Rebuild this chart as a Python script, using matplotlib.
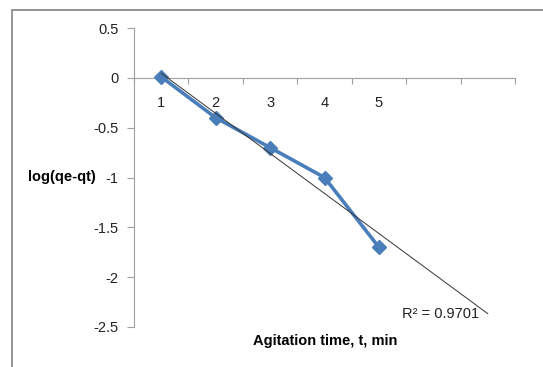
import matplotlib.pyplot as plt
import numpy as np
from matplotlib.patches import Rectangle

# Data
time_min = [1, 2, 3, 4, 5]
log_qe_qt = [0.01, -0.4, -0.7, -1.0, -1.7]
n_categories = 7          # Excel category axis runs to 7 (trendline forecast)
r2_label = 'R\u00b2 = 0.9701'

font = ['Liberation Sans Narrow', 'Liberation Sans', 'DejaVu Sans']
plt.rcParams['font.family'] = font

fig = plt.figure(figsize=(5.43, 3.67), dpi=100)
ax = fig.add_axes([134 / 543, 1 - 327 / 367, 381 / 543, 299 / 367])

# outer chart border (cut off at right and bottom like the screenshot)
fig.patches.append(Rectangle((12 / 543, -0.1), 1.1, 1 - 10 / 367 + 0.1,
                             transform=fig.transFigure, fill=False,
                             edgecolor='#8c8c8c', linewidth=1.3))

# series
ax.plot(time_min, log_qe_qt, color='#4a7ebb', linewidth=2.6,
        marker='D', markersize=7.5, zorder=3)

# linear trendline, forecast forward to category 7
coef = np.polyfit(time_min, log_qe_qt, 1)
xt = np.array([1, n_categories])
ax.plot(xt, np.polyval(coef, xt), color='#333333', linewidth=0.7, zorder=4)
ax.text(5.42, -2.37, r2_label, fontsize=10.5, color='#222222', va='center')

ax.set_xlim(0.5, n_categories + 0.5)
ax.set_ylim(-2.5, 0.5)

# spines
for s in ['top', 'right']:
    ax.spines[s].set_visible(False)
ax.spines['bottom'].set_position(('data', 0))
ax.spines['bottom'].set_color('#a0a0a0')
ax.spines['left'].set_color('#a0a0a0')

# x axis: ticks between categories, labels at centres
ax.set_xticks(np.arange(0.5, n_categories + 1, 1.0))
ax.set_xticklabels([])
ax.set_xticks(time_min, minor=True)
ax.set_xticklabels([str(t) for t in time_min], minor=True)
ax.tick_params(axis='x', which='major', direction='out', length=4, color='#a0a0a0')
ax.tick_params(axis='x', which='minor', length=0, pad=13, labelsize=10.5,
               labelcolor='#222222')

ax.set_yticks([0.5, 0, -0.5, -1, -1.5, -2, -2.5])
ax.set_yticklabels(['0.5', '0', '-0.5', '-1', '-1.5', '-2', '-2.5'])
ax.tick_params(axis='y', direction='out', length=5, color='#a0a0a0',
               labelsize=10.5, labelcolor='#222222', pad=6)

ax.set_ylabel('log(qe-qt)', rotation=0, fontsize=10.5, fontweight='bold',
              ha='center', va='center')
ax.yaxis.set_label_coords(-0.189, 0.5)
ax.text(0.501, -0.047, 'Agitation time, t, min', transform=ax.transAxes,
        fontsize=10.5, fontweight='bold', ha='center', va='center')

fig.savefig('out.png', dpi=100)
